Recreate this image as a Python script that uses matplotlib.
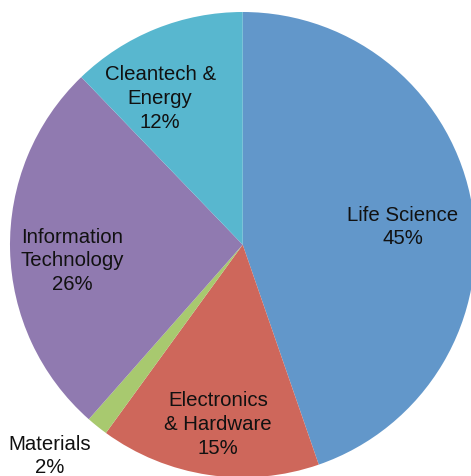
import matplotlib
matplotlib.use("Agg")
import matplotlib.pyplot as plt

plt.rcParams['font.family'] = ['Liberation Sans', 'DejaVu Sans']

categories = ['Life Science', 'Electronics\n& Hardware', 'Materials',
              'Information\nTechnology', 'Cleantech &\nEnergy']
shares = [44.7, 15.3, 1.5, 26.3, 12.2]
pct_labels = ['45%', '15%', '2%', '26%', '12%']
colors = ['#6297CA', '#CE675B', '#A8C96F', '#907AB0', '#58B7CF']

# label centres in axes data units (pie radius = 1)
label_xy = [(0.689, 0.076), (-0.105, -0.772), (-0.828, -0.908),
            (-0.734, -0.070), (-0.355, 0.630)]

W, H = 471, 476
fig = plt.figure(figsize=(W / 100, H / 100), dpi=100)
cx, cy, r = 242.7, H - 244.7, 232.7
ax = fig.add_axes([(cx - r) / W, (cy - r) / H, 2 * r / W, 2 * r / H])
ax.pie(shares, colors=colors, startangle=90, counterclock=False, radius=1,
       wedgeprops=dict(linewidth=0))
ax.set_xlim(-1, 1)
ax.set_ylim(-1, 1)
ax.set_aspect('auto')
ax.axis('off')

for name, pct, (x, y) in zip(categories, pct_labels, label_xy):
    ax.text(x, y, name + '\n' + pct, ha='center', va='center',
            fontsize=14.7, color='#111111', linespacing=1.33, clip_on=False)

fig.savefig('out.png', dpi=100)
